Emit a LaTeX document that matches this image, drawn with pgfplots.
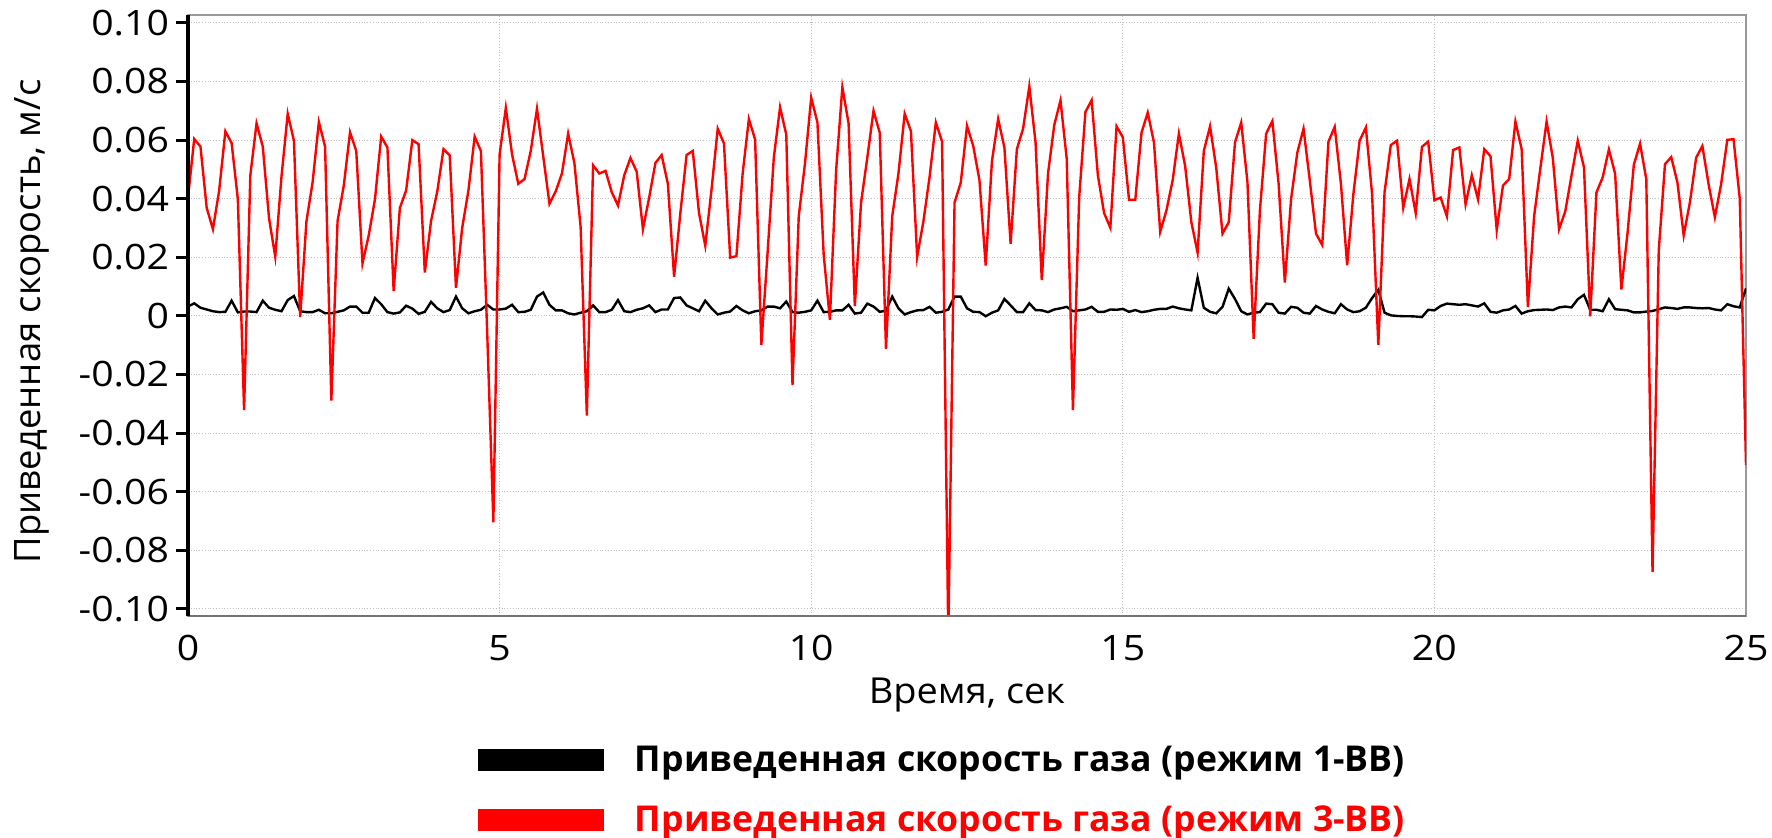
\documentclass[border=0pt]{standalone}
\usepackage{pgfplots}
\pgfplotsset{compat=1.18}
\usepackage{pgfplotstable}
\usepackage{fontspec}
\setmainfont{Open Sans}
\newfontfamily\lblfont[FakeStretch=1.06]{Open Sans}
\newfontfamily\tickfont[FakeStretch=1.12]{Open Sans}

% t = время, a = режим 1-ВВ, b = режим 3-ВВ
\pgfplotstableread{
t a b
0.0 0.0032 0.0404
0.1 0.0043 0.0604
0.2 0.0028 0.0578
0.3 0.0022 0.0369
0.4 0.0016 0.0296
0.5 0.0013 0.0428
0.6 0.0014 0.0630
0.7 0.0052 0.0590
0.8 0.0012 0.0398
0.9 0.0015 -0.0321
1.0 0.0015 0.0480
1.1 0.0013 0.0657
1.2 0.0052 0.0578
1.3 0.0028 0.0334
1.4 0.0021 0.0202
1.5 0.0016 0.0475
1.6 0.0054 0.0690
1.7 0.0068 0.0598
1.8 0.0016 -0.0004
1.9 0.0013 0.0322
2.0 0.0013 0.0457
2.1 0.0021 0.0662
2.2 0.0009 0.0577
2.3 0.0009 -0.0289
2.4 0.0014 0.0324
2.5 0.0019 0.0445
2.6 0.0032 0.0627
2.7 0.0032 0.0563
2.8 0.0011 0.0179
2.9 0.0011 0.0275
3.0 0.0061 0.0398
3.1 0.0040 0.0612
3.2 0.0013 0.0575
3.3 0.0008 0.0085
3.4 0.0012 0.0369
3.5 0.0035 0.0428
3.6 0.0025 0.0600
3.7 0.0007 0.0586
3.8 0.0014 0.0148
3.9 0.0048 0.0324
4.0 0.0026 0.0425
4.1 0.0013 0.0569
4.2 0.0020 0.0548
4.3 0.0066 0.0096
4.4 0.0026 0.0301
4.5 0.0009 0.0428
4.6 0.0016 0.0612
4.7 0.0021 0.0563
4.8 0.0038 -0.0050
4.9 0.0022 -0.0704
5.0 0.0022 0.0551
5.1 0.0025 0.0710
5.2 0.0038 0.0551
5.3 0.0013 0.0451
5.4 0.0014 0.0467
5.5 0.0021 0.0563
5.6 0.0066 0.0707
5.7 0.0080 0.0545
5.8 0.0038 0.0383
5.9 0.0019 0.0425
6.0 0.0019 0.0486
6.1 0.0009 0.0622
6.2 0.0005 0.0522
6.3 0.0011 0.0304
6.4 0.0016 -0.0340
6.5 0.0036 0.0514
6.6 0.0013 0.0486
6.7 0.0013 0.0495
6.8 0.0021 0.0422
6.9 0.0054 0.0377
7.0 0.0016 0.0480
7.1 0.0013 0.0539
7.2 0.0021 0.0492
7.3 0.0026 0.0296
7.4 0.0036 0.0404
7.5 0.0013 0.0522
7.6 0.0022 0.0549
7.7 0.0022 0.0451
7.8 0.0061 0.0134
7.9 0.0063 0.0350
8.0 0.0036 0.0549
8.1 0.0026 0.0563
8.2 0.0016 0.0351
8.3 0.0052 0.0240
8.4 0.0026 0.0430
8.5 0.0005 0.0639
8.6 0.0011 0.0589
8.7 0.0015 0.0199
8.8 0.0034 0.0204
8.9 0.0019 0.0486
9.0 0.0009 0.0672
9.1 0.0016 0.0602
9.2 0.0019 -0.0099
9.3 0.0032 0.0216
9.4 0.0032 0.0540
9.5 0.0026 0.0712
9.6 0.0049 0.0619
9.7 0.0013 -0.0236
9.8 0.0011 0.0340
9.9 0.0014 0.0520
10.0 0.0019 0.0745
10.1 0.0052 0.0660
10.2 0.0013 0.0210
10.3 0.0014 -0.0013
10.4 0.0019 0.0498
10.5 0.0019 0.0780
10.6 0.0038 0.0657
10.7 0.0008 0.0034
10.8 0.0011 0.0387
10.9 0.0042 0.0540
11.0 0.0032 0.0700
11.1 0.0014 0.0625
11.2 0.0018 -0.0113
11.3 0.0066 0.0340
11.4 0.0026 0.0486
11.5 0.0005 0.0690
11.6 0.0013 0.0631
11.7 0.0019 0.0202
11.8 0.0020 0.0322
11.9 0.0031 0.0475
12.0 0.0011 0.0660
12.1 0.0014 0.0595
12.2 0.0022 -0.1100
12.3 0.0066 0.0387
12.4 0.0066 0.0455
12.5 0.0026 0.0649
12.6 0.0014 0.0580
12.7 0.0013 0.0463
12.8 -0.0001 0.0172
12.9 0.0011 0.0528
13.0 0.0019 0.0672
13.1 0.0058 0.0575
13.2 0.0036 0.0246
13.3 0.0013 0.0569
13.4 0.0013 0.0639
13.5 0.0043 0.0783
13.6 0.0020 0.0592
13.7 0.0019 0.0122
13.8 0.0013 0.0486
13.9 0.0022 0.0651
14.0 0.0026 0.0736
14.1 0.0031 0.0536
14.2 0.0016 -0.0321
14.3 0.0019 0.0404
14.4 0.0022 0.0696
14.5 0.0031 0.0736
14.6 0.0014 0.0480
14.7 0.0014 0.0351
14.8 0.0022 0.0301
14.9 0.0021 0.0647
15.0 0.0024 0.0610
15.1 0.0014 0.0396
15.2 0.0020 0.0396
15.3 0.0013 0.0625
15.4 0.0016 0.0694
15.5 0.0021 0.0592
15.6 0.0024 0.0287
15.7 0.0024 0.0360
15.8 0.0032 0.0463
15.9 0.0026 0.0622
16.0 0.0022 0.0512
16.1 0.0019 0.0320
16.2 0.0130 0.0216
16.3 0.0028 0.0563
16.4 0.0014 0.0647
16.5 0.0009 0.0504
16.6 0.0031 0.0281
16.7 0.0093 0.0320
16.8 0.0058 0.0592
16.9 0.0016 0.0660
17.0 0.0005 0.0457
17.1 0.0011 -0.0078
17.2 0.0013 0.0360
17.3 0.0042 0.0622
17.4 0.0040 0.0665
17.5 0.0011 0.0451
17.6 0.0008 0.0114
17.7 0.0031 0.0398
17.8 0.0028 0.0557
17.9 0.0011 0.0639
18.0 0.0008 0.0463
18.1 0.0034 0.0281
18.2 0.0022 0.0242
18.3 0.0014 0.0595
18.4 0.0009 0.0645
18.5 0.0040 0.0451
18.6 0.0022 0.0173
18.7 0.0013 0.0416
18.8 0.0016 0.0598
18.9 0.0028 0.0643
19.0 0.0061 0.0416
19.1 0.0089 -0.0099
19.2 0.0011 0.0422
19.3 0.0002 0.0583
19.4 0.0000 0.0598
19.5 -0.0001 0.0369
19.6 -0.0001 0.0467
19.7 -0.0002 0.0351
19.8 -0.0004 0.0577
19.9 0.0021 0.0595
20.0 0.0019 0.0395
20.1 0.0034 0.0404
20.2 0.0042 0.0340
20.3 0.0040 0.0566
20.4 0.0038 0.0575
20.5 0.0040 0.0381
20.6 0.0036 0.0480
20.7 0.0032 0.0398
20.8 0.0043 0.0569
20.9 0.0014 0.0545
21.0 0.0011 0.0293
21.1 0.0019 0.0445
21.2 0.0022 0.0467
21.3 0.0034 0.0663
21.4 0.0008 0.0569
21.5 0.0016 0.0030
21.6 0.0020 0.0340
21.7 0.0021 0.0504
21.8 0.0022 0.0663
21.9 0.0020 0.0539
22.0 0.0029 0.0296
22.1 0.0032 0.0357
22.2 0.0029 0.0479
22.3 0.0057 0.0598
22.4 0.0072 0.0507
22.5 0.0021 -0.0001
22.6 0.0021 0.0421
22.7 0.0016 0.0473
22.8 0.0057 0.0568
22.9 0.0023 0.0485
23.0 0.0021 0.0090
23.1 0.0019 0.0285
23.2 0.0012 0.0516
23.3 0.0012 0.0588
23.4 0.0015 0.0467
23.5 0.0017 -0.0874
23.6 0.0023 0.0224
23.7 0.0029 0.0518
23.8 0.0027 0.0542
23.9 0.0024 0.0455
24.0 0.0029 0.0275
24.1 0.0029 0.0388
24.2 0.0027 0.0540
24.3 0.0026 0.0580
24.4 0.0027 0.0449
24.5 0.0022 0.0337
24.6 0.0019 0.0449
24.7 0.0040 0.0601
24.8 0.0033 0.0603
24.9 0.0029 0.0400
25.0 0.0094 -0.0508
}\speed

\begin{document}
\begin{tikzpicture}
\begin{axis}[
  name=ax,
  at={(0,0)}, anchor=south west,
  scale only axis, width=779pt, height=300.5pt,
  xmin=0, xmax=25, ymin=-0.1024, ymax=0.1027,
  xtick={0,5,10,15,20,25},
  xticklabels={0,5,10,15,20,25},
  ytick={-0.1,-0.08,-0.06,-0.04,-0.02,0,0.02,0.04,0.06,0.08,0.1},
  yticklabels={-0.10,-0.08,-0.06,-0.04,-0.02,0,0.02,0.04,0.06,0.08,0.10},
  ytick pos=left,
  grid=major,
  grid style={densely dotted, black!25, line width=0.5pt},
  axis line style={black!40, line width=0.6pt},
  tick align=outside, major tick length=6pt,
  ytick style={black, line width=1.5pt},
  xtick style={draw=none},
  ticklabel style={font=\tickfont\fontsize{17.5pt}{21pt}\selectfont},
  xlabel={Время, сек},
  ylabel={Приведенная скорость, м/с},
  xlabel style={font=\lblfont\fontsize{17.9pt}{21pt}\selectfont,
    at={(axis description cs:0.5,-0.1448)}, anchor=base},
  ylabel style={font=\fontsize{18.2pt}{21pt}\selectfont,
    at={(axis description cs:-0.1000,0.490)}, anchor=center},
  legend style={at={(axis description cs:0.1788,-0.2087)}, anchor=north west,
    draw=none, fill=none, inner sep=0pt, row sep=11.5pt, column sep=8pt,
    font=\bfseries\fontsize{17.8pt}{21pt}\selectfont},
  legend cell align=left,
  legend image code/.code={\draw[#1, line width=11pt] (0pt,0pt) -- (63pt,0pt);},
]
\addplot[black, line width=1.2pt] table[x=t, y=a] {\speed};
\addlegendentry{Приведенная скорость газа (режим 1-ВВ)}
\addplot[red, line width=1.2pt] table[x=t, y=b] {\speed};
\addlegendentry{\textcolor{red}{Приведенная скорость газа (режим 3-ВВ)}}
\end{axis}
\draw[black!55, line width=0.9pt] (ax.south west) -- (ax.south east);
\draw[black, line width=1.6pt] (ax.south west) -- (ax.north west);
\pgfresetboundingbox
\useasboundingbox (-94pt,-111pt) rectangle (792pt,308pt);
\end{tikzpicture}
\end{document}
